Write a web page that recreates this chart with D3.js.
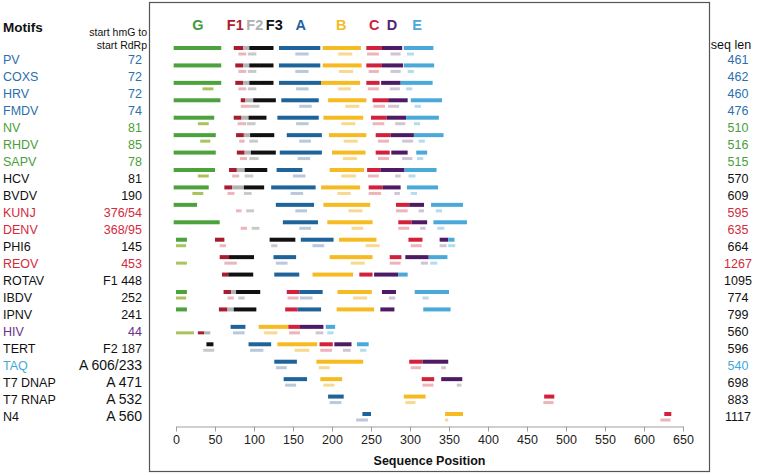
<!DOCTYPE html>
<html>
<head>
<meta charset="utf-8">
<script src="https://cdn.jsdelivr.net/npm/d3@7"></script>
<style>
    body { margin: 0; background: #fff; }
    svg { font-family: "Liberation Sans", Arial, sans-serif; }
</style>
</head>
<body>
<div id="chart"></div>
<script>

/* ---- data ---- */

const motifs = ["G", "F1", "F2", "F3", "A", "B", "C", "D", "E"];
// where each motif letter sits above the plot (sequence units)
const motifHeaderPos = [28, 76, 101, 126, 160, 212, 254, 277, 309];

const viruses = ["PV", "COXS", "HRV", "FMDV", "NV", "RHDV", "SAPV", "HCV", "BVDV", "KUNJ", "DENV",
    "PHI6", "REOV", "ROTAV", "IBDV", "IPNV", "HIV", "TERT", "TAQ", "T7 DNAP", "T7 RNAP", "N4"];

const startHmG = ["72", "72", "72", "74", "81", "85", "78", "81", "190", "376/54", "368/95",
    "145", "453", "F1 448", "252", "241", "44", "F2 187", "A 606/233", "A 471", "A 532", "A 560"];

const seqLen = [461, 462, 460, 476, 510, 516, 515, 570, 609, 595, 635,
    664, 1267, 1095, 774, 799, 560, 596, 540, 698, 883, 1117];

// colour group of the name / left value / right value
const nameGroup = ["picorna", "picorna", "picorna", "picorna", "calici", "calici", "calici", "other", "other", "flavi", "flavi",
    "other", "flavi", "other", "other", "other", "hiv", "other", "taq", "other", "other", "other"];
const startGroup = ["picorna", "picorna", "picorna", "picorna", "calici", "calici", "calici", "other", "other", "flavi", "flavi",
    "other", "flavi", "other", "other", "other", "hiv", "other", "other", "other", "other", "other"];
const lenGroup = ["picorna", "picorna", "picorna", "picorna", "calici", "calici", "calici", "other", "other", "flavi", "flavi",
    "other", "flavi", "other", "other", "other", "other", "other", "taq", "other", "other", "other"];

// motif spans on the upper line of each row: [motif, start, end]
const mainBars = [
    [["G", -3, 58], ["F1", 74, 86], ["F2", 86, 94], ["F3", 94, 125], ["A", 132, 185], ["B", 188, 237], ["C", 244, 264], ["D", 264, 290], ["E", 292, 330]],
    [["G", -3, 58], ["F1", 76, 86], ["F2", 86, 94], ["F3", 94, 125], ["A", 132, 185], ["B", 188, 238], ["C", 244, 264], ["D", 264, 291], ["E", 292, 331]],
    [["G", -3, 58], ["F1", 76, 86], ["F2", 86, 94], ["F3", 94, 125], ["A", 132, 186], ["B", 186, 236], ["C", 244, 261], ["D", 263, 288], ["E", 288, 329]],
    [["G", -3, 57], ["F1", 83, 89], ["F2", 89, 99], ["F3", 99, 128], ["A", 135, 183], ["B", 195, 244], ["C", 252, 272], ["D", 272, 297], ["E", 301, 341]],
    [["G", -3, 49], ["F1", 74, 84], ["F2", 84, 93], ["F3", 93, 116], ["A", 130, 183], ["B", 189, 240], ["C", 250, 270], ["D", 270, 295], ["E", 295, 337]],
    [["G", -3, 51], ["F1", 77, 87], ["F2", 87, 95], ["F3", 95, 126], ["A", 142, 187], ["B", 196, 244], ["C", 256, 275], ["D", 275, 305], ["E", 305, 343]],
    [["G", -3, 51], ["F1", 78, 88], ["F2", 88, 96], ["F3", 96, 128], ["A", 133, 187], ["B", 200, 243], ["C", 256, 274], ["D", 276, 297], ["E", 308, 322]],
    [["G", -3, 50], ["F1", 68, 78], ["F2", 78, 88], ["F3", 88, 117], ["A", 129, 162], ["B", 197, 241], ["C", 245, 262], ["D", 262, 293], ["E", 293, 334]],
    [["G", -3, 42], ["F1", 62, 72], ["F2", 72, 87], ["F3", 87, 113], ["A", 122, 179], ["B", 186, 236], ["C", 247, 265], ["D", 265, 288], ["E", 296, 336]],
    [["G", -3, 27], ["A", 128, 177], ["B", 189, 249], ["C", 282, 299], ["D", 299, 318], ["E", 327, 368]],
    [["G", -3, 56], ["A", 137, 182], ["B", 194, 252], ["C", 285, 302], ["D", 302, 322], ["E", 330, 373]],
    [["G", 0, 14], ["F1", 50, 62], ["F3", 120, 153], ["A", 160, 202], ["B", 209, 257], ["C", 298, 316], ["D", 338, 349], ["E", 349, 357]],
    [["F1", 56, 68], ["F3", 68, 100], ["A", 125, 154], ["B", 197, 252], ["C", 274, 289], ["D", 294, 324], ["E", 324, 348]],
    [["F1", 59, 67], ["F3", 67, 99], ["A", 126, 158], ["B", 175, 227], ["C", 235, 252], ["D", 254, 285], ["E", 285, 297]],
    [["G", 0, 14], ["F1", 61, 71], ["F2", 71, 77], ["F3", 77, 108], ["C", 142, 158], ["A", 158, 188], ["B", 207, 251], ["D", 264, 282], ["E", 306, 350]],
    [["G", 0, 14], ["F1", 55, 66], ["F2", 66, 74], ["F3", 74, 103], ["C", 140, 156], ["A", 156, 186], ["B", 206, 254], ["D", 262, 280], ["E", 317, 352]],
    [["A", 70, 89], ["B", 106, 144], ["C", 144, 159], ["D", 159, 189], ["E", 192, 204]],
    [["F3", 39, 48], ["A", 93, 122], ["B", 130, 181], ["C", 184, 201], ["D", 203, 225], ["E", 232, 247]],
    [["A", 126, 155], ["B", 180, 240], ["C", 299, 316], ["D", 316, 349]],
    [["A", 138, 168], ["B", 185, 213], ["C", 315, 331], ["D", 340, 367]],
    [["A", 195, 215], ["B", 292, 320], ["C", 472, 485]],
    [["A", 239, 250], ["B", 345, 368], ["C", 626, 635]]
];

// spans on the lower (pale) line of each row; "*" = drawn in the full motif colour
const subBars = [
    [["F1", 80, 90], ["F2", 92, 103], ["A", 153, 170], ["B", 208, 226], ["C", 245, 260], ["D", 275, 288], ["E", 296, 305]],
    [["F1", 80, 90], ["F2", 92, 103], ["A", 153, 170], ["B", 209, 227], ["C", 247, 260], ["D", 275, 288], ["E", 297, 305]],
    [["G", 34, 48], ["F1", 80, 90], ["F2", 92, 103], ["A", 154, 170], ["B", 208, 224], ["C", 246, 260], ["D", 274, 287], ["E", 295, 303]],
    [["F1", 83, 95], ["F2", 95, 107], ["A", 158, 174], ["B", 217, 235], ["C", 253, 268], ["D", 272, 286], ["E", 306, 314]],
    [["G", 28, 42], ["F1", 79, 90], ["F2", 91, 102], ["A", 154, 170], ["B", 212, 230], ["C", 252, 267], ["D", 281, 294], ["E", 305, 313]],
    [["G", 31, 44], ["F1", 81, 88], ["F2", 94, 105], ["A", 158, 173], ["B", 215, 233], ["C", 259, 273], ["D", 290, 304], ["E", 311, 319]],
    [["F1", 82, 91], ["F2", 94, 106], ["A", 156, 172], ["B", 214, 232], ["C", 259, 273], ["D", 290, 303], ["E", 309, 317]],
    [["G", 28, 42], ["F1", 72, 81], ["F2", 88, 99], ["A", 150, 166], ["B", 212, 231], ["C", 246, 260], ["D", 281, 288], ["E", 298, 307]],
    [["G", 21, 35], ["F1", 66, 75], ["F2", 87, 97], ["A", 147, 163], ["B", 207, 224], ["C", 247, 263], ["D", 280, 287], ["E", 301, 309]],
    [["F1", 77, 84], ["F2", 90, 100], ["A", 153, 168], ["B", 221, 239], ["C", 282, 297], ["D", 311, 318], ["E", 333, 341]],
    [["F1", 83, 91], ["F2", 97, 107], ["A", 158, 173], ["B", 225, 240], ["C", 285, 299], ["D", 313, 320], ["E", 335, 344]],
    [["G", 0, 13], ["F1", 56, 64], ["F2", 122, 130], ["A", 175, 190], ["B", 243, 261], ["C", 301, 315], ["D", 338, 347], ["E", 349, 358]],
    [["G", 0, 14], ["F1", 62, 78], ["A", 128, 143], ["B", 224, 242], ["C", 274, 288], ["D", 314, 323], ["E", 326, 335]],
    [],
    [["G", 0, 13], ["F1", 66, 74], ["F2", 80, 88], ["C", 143, 157], ["A", 159, 175], ["B", 227, 245], ["D", 273, 281], ["E", 316, 324]],
    [],
    [["G", 0, 23], ["F1*", 28, 36], ["F2*", 36, 44], ["A", 73, 88], ["B", 113, 130], ["C", 145, 159], ["D", 179, 189], ["E", 194, 202]],
    [["F2", 35, 49], ["A", 95, 112], ["B", 152, 171], ["C", 185, 200], ["D", 214, 224], ["E", 236, 244]],
    [["A", 128, 142], ["B", 183, 197], ["C", 301, 314], ["D", 340, 346]],
    [["A", 140, 154], ["B", 189, 203], ["C", 316, 330], ["D", 360, 366]],
    [["A", 197, 212], ["B", 294, 307], ["C", 471, 484]],
    [["A", 231, 246], ["B", 345, 349], ["C", 621, 634]]
];

const xTicks = d3.range(0, 651, 50);

/* ---- colours ---- */
const strongColor = d3.scaleOrdinal().domain(motifs)
    .range(["#4ca23c", "#a81c30", "#b3b3b3", "#111111", "#1e6399", "#f6bb22", "#d4213b", "#4d1b63", "#4aa9d9"]);
const paleColor = d3.scaleOrdinal().domain(motifs)
    .range(["#a9c45c", "#ebb5ba", "#c9c9c9", "#c4c4c4", "#b9c8da", "#f8d98f", "#efb3ba", "#d2c4d6", "#b3dcef"]);
const headerColor = d3.scaleOrdinal().domain(motifs)
    .range(["#3d9a3d", "#b01c30", "#b0b0b0", "#111111", "#1f65a0", "#f6bb22", "#d4213b", "#5a2070", "#4aa9d9"]);
const textColor = d3.scaleOrdinal().domain(["picorna", "calici", "other", "flavi", "hiv", "taq"])
    .range(["#2c6fae", "#4a9e3a", "#111111", "#d42a3a", "#6b2f87", "#41a9d9"]);

/* ---- layout ---- */
const W = 760, H = 475;
const svg = d3.select("#chart").append("svg")
    .attr("width", W).attr("height", H);

const x = d3.scaleLinear().domain([0, 650]).range([176, 683]);
const nRows = viruses.length;
const yBar = d3.scaleLinear().domain([0, nRows - 1]).range([48, 414]);
const yLabel = d3.scaleLinear().domain([0, nRows - 1]).range([60, 416.5]);
const axisY = 426.5;

/* plot frame */
svg.append("rect")
    .attr("x", 149.5).attr("y", 2.5)
    .attr("width", 560).attr("height", 469)
    .attr("fill", "none").attr("stroke", "#555").attr("stroke-width", 1.2);

/* motif letters on top */
svg.append("g").selectAll("text")
    .data(motifs)
    .join("text")
    .attr("x", (d, i) => x(motifHeaderPos[i]))
    .attr("y", 25)
    .attr("dy", "0.35em")
    .attr("text-anchor", "middle")
    .attr("font-size", 14.5)
    .attr("font-weight", "bold")
    .attr("fill", d => headerColor(d))
    .text(d => d);

/* bars */
const rowGroups = svg.append("g").selectAll("g")
    .data(viruses)
    .join("g");

rowGroups.selectAll("rect.main")
    .data((d, i) => mainBars[i].map(b => ({ row: i, m: b[0], s: b[1], e: b[2] })))
    .join("rect")
    .attr("class", "main")
    .attr("x", d => x(d.s))
    .attr("width", d => x(d.e) - x(d.s))
    .attr("y", d => yBar(d.row) - 2)
    .attr("height", 4)
    .attr("fill", d => strongColor(d.m));

rowGroups.selectAll("rect.sub")
    .data((d, i) => subBars[i].map(b => ({ row: i, m: b[0], s: b[1], e: b[2] })))
    .join("rect")
    .attr("class", "sub")
    .attr("x", d => x(d.s))
    .attr("width", d => x(d.e) - x(d.s))
    .attr("y", d => yBar(d.row) + 4.5)
    .attr("height", 3)
    .attr("fill", d => d.m.endsWith("*") ? strongColor(d.m.slice(0, -1)) : paleColor(d.m));

/* x axis */
const xAxisGroup = svg.append("g")
    .attr("transform", `translate(0, ${axisY})`)
    .call(d3.axisBottom(x).tickValues(xTicks).tickSize(5).tickSizeOuter(0).tickPadding(4));
xAxisGroup.select(".domain").attr("stroke", "#a0a0a0");
xAxisGroup.selectAll(".tick line").attr("stroke", "#a0a0a0");
xAxisGroup.selectAll(".tick text")
    .attr("font-size", 12.5)
    .attr("font-family", "Liberation Sans, Arial, sans-serif")
    .attr("fill", "#222");

svg.append("text")
    .attr("x", (x(0) + x(650)) / 2)
    .attr("y", 461)
    .attr("dy", "0.35em")
    .attr("text-anchor", "middle")
    .attr("font-size", 12.5)
    .attr("font-weight", "bold")
    .attr("fill", "#111")
    .text("Sequence Position");

/* left column headers */
svg.append("text")
    .attr("x", 3).attr("y", 27).attr("dy", "0.35em")
    .attr("font-size", 13.5).attr("font-weight", "bold").attr("fill", "#111")
    .text("Motifs");
svg.append("text")
    .attr("x", 147).attr("y", 32).attr("dy", "0.35em")
    .attr("text-anchor", "end").attr("font-size", 10.5).attr("fill", "#111")
    .text("start hmG to");
svg.append("text")
    .attr("x", 147).attr("y", 45).attr("dy", "0.35em")
    .attr("text-anchor", "end").attr("font-size", 10.5).attr("fill", "#111")
    .text("start RdRp");

/* names */
svg.append("g").selectAll("text")
    .data(viruses)
    .join("text")
    .attr("x", 3)
    .attr("y", (d, i) => yLabel(i))
    .attr("dy", "0.35em")
    .attr("font-size", 12.5)
    .attr("fill", (d, i) => textColor(nameGroup[i]))
    .text(d => d);

/* start hmG to start RdRp */
svg.append("g").selectAll("text")
    .data(startHmG)
    .join("text")
    .attr("x", 142)
    .attr("y", (d, i) => yLabel(i))
    .attr("dy", "0.35em")
    .attr("text-anchor", "end")
    .attr("font-size", d => d.startsWith("A ") ? 14 : 12.5)
    .attr("fill", (d, i) => textColor(startGroup[i]))
    .text(d => d);

/* seq len column */
svg.append("text")
    .attr("x", 731).attr("y", 45).attr("dy", "0.35em")
    .attr("text-anchor", "middle").attr("font-size", 12.5).attr("fill", "#111")
    .text("seq len");
svg.append("g").selectAll("text")
    .data(seqLen)
    .join("text")
    .attr("x", 738)
    .attr("y", (d, i) => yLabel(i))
    .attr("dy", "0.35em")
    .attr("text-anchor", "middle")
    .attr("font-size", 12.5)
    .attr("fill", (d, i) => textColor(lenGroup[i]))
    .text(d => d);

</script>
</body>
</html>
